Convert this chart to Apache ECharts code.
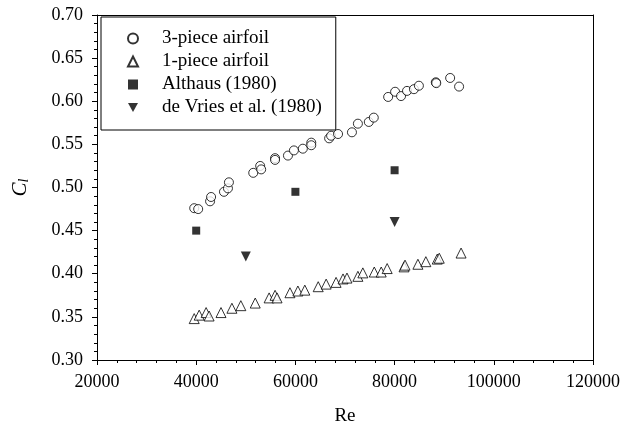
<!DOCTYPE html>
<html>
<head>
<meta charset="utf-8">
<script src="https://cdn.jsdelivr.net/npm/echarts@6/dist/echarts.min.js"></script>
<style>
  html, body { margin: 0; padding: 0; background: #fff; }
  #chart { width: 624px; height: 434px; }
</style>
</head>
<body>
<div id="chart"></div>
<script>
// 3-piece airfoil
const re3 = [39600, 40400, 42800, 43000, 45600, 46400, 46600, 51500, 52900, 53100, 55900, 55900, 58500, 59700, 61500, 63200, 63200, 66800, 67200, 68600, 71400, 72600, 74800, 75800, 78700, 80100, 81300, 82500, 83900, 84900, 88300, 88400, 91200, 93000]
const cl3 = [0.476, 0.475, 0.484, 0.489, 0.495, 0.499, 0.506, 0.517, 0.525, 0.521, 0.534, 0.532, 0.537, 0.543, 0.545, 0.552, 0.549, 0.557, 0.560, 0.562, 0.564, 0.574, 0.576, 0.581, 0.605, 0.611, 0.606, 0.612, 0.614, 0.618, 0.622, 0.621, 0.627, 0.617]
// 1-piece airfoil
const re1 = [39600, 40600, 42000, 42600, 45000, 47200, 49000, 51900, 54700, 55900, 56300, 58900, 60500, 61900, 64600, 66200, 68200, 69600, 70400, 72600, 73600, 75900, 77300, 78500, 81900, 82100, 84700, 86300, 88600, 89000, 93400]
const cl1 = [0.348, 0.352, 0.355, 0.351, 0.355, 0.360, 0.363, 0.366, 0.372, 0.375, 0.372, 0.378, 0.380, 0.381, 0.385, 0.388, 0.390, 0.394, 0.395, 0.397, 0.401, 0.402, 0.402, 0.406, 0.408, 0.410, 0.411, 0.414, 0.417, 0.418, 0.424]
// Althaus (1980)
const reAlthaus = [40000, 60000, 80000]
const clAlthaus = [0.45, 0.495, 0.52]
// de Vries et al. (1980)
const reVries = [50000, 80000]
const clVries = [0.42, 0.46]

const seriesNames = ['3-piece airfoil', '1-piece airfoil', 'Althaus (1980)', 'de Vries et al. (1980)']

const zip = (xs, ys) => xs.map((x, i) => [x, ys[i]])

const font = 'Liberation Serif'
const chart = echarts.init(document.getElementById('chart'))

const plotRect = { left: 97, right: 31, top: 15, bottom: 74 }
const line = { onZero: false, lineStyle: { color: '#000', width: 1 } }
const minor = { show: true, splitNumber: 5, length: 3, lineStyle: { color: '#000', width: 1 } }

const option = {
  backgroundColor: '#fff',
  animation: false,
  // 第二个 grid 与主 grid 重叠，只画上边框和右边框
  grid: [plotRect, plotRect],
  xAxis: [
    {
      gridIndex: 0, type: 'value', position: 'bottom', min: 20000, max: 120000, interval: 20000,
      axisLine: line,
      axisTick: { show: true, inside: false, length: 5, lineStyle: { color: '#000' } },
      minorTick: minor,
      splitLine: { show: false },
      axisLabel: { color: '#000', fontFamily: font, fontSize: 18, margin: 13, formatter: v => String(v) },
      name: 'Re', nameLocation: 'middle', nameGap: 47,
      nameTextStyle: { color: '#000', fontFamily: font, fontSize: 19 }
    },
    {
      gridIndex: 1, type: 'value', position: 'top', min: 20000, max: 120000, interval: 20000,
      axisLine: line,
      axisTick: { show: false },
      splitLine: { show: false },
      axisLabel: { show: false }
    }
  ],
  yAxis: [
    {
      gridIndex: 0, type: 'value', position: 'left', min: 0.3, max: 0.7, interval: 0.05,
      axisLine: line,
      axisTick: { show: true, inside: false, length: 5, lineStyle: { color: '#000' } },
      minorTick: minor,
      splitLine: { show: false },
      axisLabel: { color: '#000', fontFamily: font, fontSize: 18, margin: 14, formatter: v => v.toFixed(2) },
      name: '{c|C}{s|l}', nameLocation: 'middle', nameGap: 66, nameRotate: 90,
      nameTextStyle: {
        rich: {
          c: { fontFamily: font, fontSize: 21, fontStyle: 'italic', color: '#000' },
          s: { fontFamily: font, fontSize: 14, fontStyle: 'italic', color: '#000', verticalAlign: 'bottom', padding: [8, 0, 0, 0] }
        }
      }
    },
    {
      gridIndex: 1, type: 'value', position: 'right', min: 0.3, max: 0.7, interval: 0.05,
      axisLine: line,
      axisTick: { show: false },
      splitLine: { show: false },
      axisLabel: { show: false }
    }
  ],
  legend: {
    orient: 'vertical', left: 101, top: 17,
    padding: [12, 14, 13, 26],
    itemGap: 4, itemWidth: 10, itemHeight: 10,
    borderColor: '#000', borderWidth: 1, borderRadius: 0,
    backgroundColor: '#fff',
    textStyle: { color: '#000', fontFamily: font, fontSize: 19, padding: [0, 0, 0, 19] },
    data: [
      { name: seriesNames[0] },
      { name: seriesNames[1] },
      { name: seriesNames[2] },
      { name: seriesNames[3], icon: 'path://M0,0 L10,0 L5,9 Z' }
    ]
  },
  series: [
    {
      name: seriesNames[0], type: 'scatter', symbol: 'circle', symbolSize: 9,
      xAxisIndex: 0, yAxisIndex: 0,
      itemStyle: { color: '#fff', borderColor: '#000', borderWidth: 1 },
      data: zip(re3, cl3)
    },
    {
      name: seriesNames[1], type: 'scatter', symbol: 'triangle', symbolSize: 10,
      xAxisIndex: 0, yAxisIndex: 0,
      itemStyle: { color: '#fff', borderColor: '#000', borderWidth: 1 },
      data: zip(re1, cl1)
    },
    {
      name: seriesNames[2], type: 'scatter', symbol: 'rect', symbolSize: 8,
      xAxisIndex: 0, yAxisIndex: 0,
      itemStyle: { color: '#000' },
      data: zip(reAlthaus, clAlthaus)
    },
    {
      name: seriesNames[3], type: 'scatter', symbol: 'triangle', symbolSize: 10, symbolRotate: 180,
      xAxisIndex: 0, yAxisIndex: 0,
      itemStyle: { color: '#000' },
      data: zip(reVries, clVries)
    }
  ]
}
option && chart.setOption(option)
</script>
</body>
</html>
